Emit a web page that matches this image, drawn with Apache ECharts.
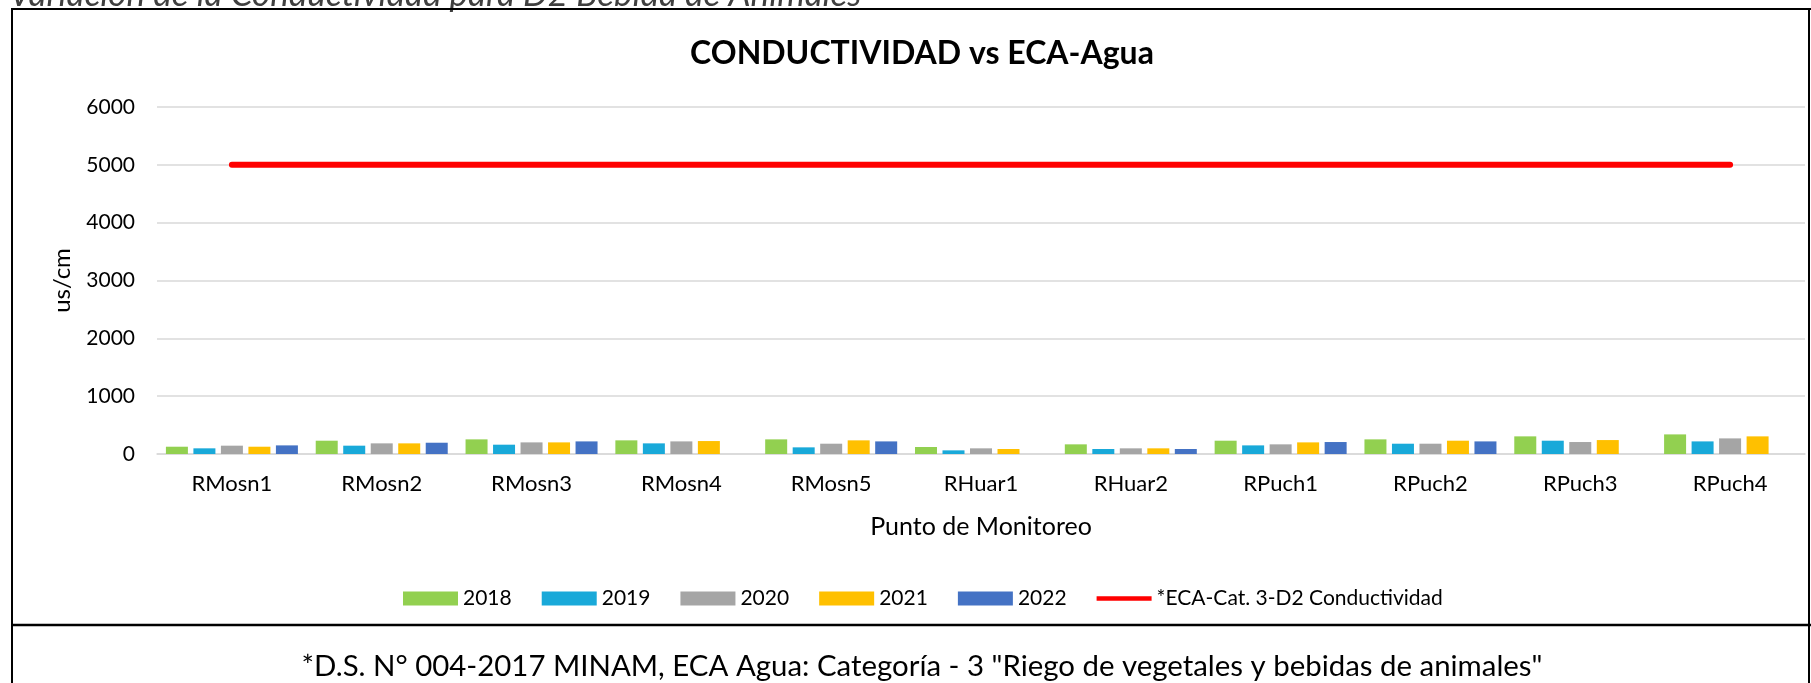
<!DOCTYPE html>
<html>
<head>
<meta charset="utf-8">
<script src="https://cdn.jsdelivr.net/npm/echarts@6/dist/echarts.min.js"></script>
<style>
    html, body { margin: 0; padding: 0; background: #fff; }
    #chart { width: 1811px; height: 683px; }
</style>
</head>
<body>
<div id="chart"></div>
<script>
    // puntos de monitoreo
    var categories = ['RMosn1', 'RMosn2', 'RMosn3', 'RMosn4', 'RMosn5', 'RHuar1', 'RHuar2', 'RPuch1', 'RPuch2', 'RPuch3', 'RPuch4'];
    var years = ['2018', '2019', '2020', '2021', '2022'];
    var v2018 = [126, 230, 253, 236, 253, 121, 167, 230, 253, 305, 339];
    var v2019 = [98, 144, 161, 184, 115, 63, 86, 149, 178, 230, 218];
    var v2020 = [144, 184, 201, 218, 178, 98, 98, 167, 178, 207, 270];
    var v2021 = [126, 184, 201, 224, 236, 86, 98, 201, 230, 241, 305];
    var v2022 = [149, 195, 218, null, 218, null, 86, 207, 218, null, null];
    var ecaName = '*ECA-Cat. 3-D2 Conductividad';
    var ecaLimit = [5000, 5000, 5000, 5000, 5000, 5000, 5000, 5000, 5000, 5000, 5000];
    var yTicks = [0, 1000, 2000, 3000, 4000, 5000, 6000];

    var colors = ['#92D050', '#19A9D9', '#A5A5A5', '#FFC000', '#4472C4'];
    var font = 'Lato';

    var chart = echarts.init(document.getElementById('chart'), null, {renderer: 'canvas'});

    var values = [v2018, v2019, v2020, v2021, v2022];

    function _series() {
        var out = years.map(function (y, i) {
            return {
                name: y,
                type: 'bar',
                data: values[i],
                barWidth: 22,
                barGap: '25%',
                itemStyle: {color: colors[i]}
            };
        });
        out.push({
            name: ecaName,
            type: 'line',
            data: ecaLimit,
            symbol: 'none',
            lineStyle: {color: '#FF0000', width: 6, cap: 'round'},
            itemStyle: {color: '#FF0000'}
        });
        return out;
    }

    // linea gruesa en la leyenda (sin punto)
    var lineIcon = 'path://M0,0H58V0.01H0Z M0,4.5H58V9.5H0Z M0,13.99H58V14H0Z';
    var legendData = years.map(function (y) {
        return {name: y, icon: 'rect'};
    });
    legendData.push({name: ecaName, icon: lineIcon});

    var option = {
        animation: false,
        textStyle: {fontFamily: font, color: '#000'},
        grid: {left: 157, right: 6, top: 107, bottom: 229},
        legend: {
            left: 398,
            top: 583,
            itemWidth: 55,
            itemHeight: 14,
            itemGap: 30,
            textStyle: {fontFamily: font, fontSize: 21, color: '#000'},
            data: legendData
        },
        xAxis: {
            type: 'category',
            data: categories,
            name: 'Punto de Monitoreo',
            nameLocation: 'middle',
            nameGap: 60,
            nameTextStyle: {fontFamily: font, fontSize: 25, color: '#000'},
            axisLine: {lineStyle: {color: '#D9D9D9', width: 1.5}},
            axisTick: {show: false},
            axisLabel: {fontFamily: font, fontSize: 22, color: '#000', margin: 19}
        },
        yAxis: {
            type: 'value',
            min: yTicks[0],
            max: yTicks[yTicks.length - 1],
            interval: 1000,
            name: 'us/cm',
            nameLocation: 'middle',
            nameGap: 83,
            nameTextStyle: {fontFamily: font, fontSize: 24, color: '#000'},
            axisLabel: {
                fontFamily: font, fontSize: 21, color: '#000', margin: 22,
                formatter: function (v) { return String(v); }
            },
            splitLine: {lineStyle: {color: '#D9D9D9', width: 1.5}}
        },
        graphic: [
            {
                type: 'text', x: 9, y: 12,
                style: {
                    text: 'Variación de la Conductividad para D2 Bebida de Animales',
                    font: 'italic 35px ' + font, fill: '#404040',
                    textVerticalAlign: 'bottom'
                }
            },
            {
                type: 'text', x: 922, y: 54,
                style: {
                    text: 'CONDUCTIVIDAD vs ECA-Agua',
                    font: 'bold 32px ' + font, fill: '#000',
                    textAlign: 'center', textVerticalAlign: 'middle'
                }
            },
            {
                type: 'text', x: 922, y: 667,
                style: {
                    text: '*D.S. N° 004-2017 MINAM, ECA Agua: Categoría - 3 "Riego de vegetales y bebidas de animales"',
                    font: '29.4px ' + font, fill: '#000',
                    textAlign: 'center', textVerticalAlign: 'middle'
                }
            },
            // bordes de la celda
            {type: 'line', shape: {x1: 11, y1: 9, x2: 1811, y2: 9}, style: {stroke: '#000', lineWidth: 2}},
            {type: 'line', shape: {x1: 12, y1: 8, x2: 12, y2: 683}, style: {stroke: '#000', lineWidth: 2}},
            {type: 'line', shape: {x1: 1809, y1: 8, x2: 1809, y2: 683}, style: {stroke: '#000', lineWidth: 2}},
            {type: 'line', shape: {x1: 11, y1: 625, x2: 1811, y2: 625}, style: {stroke: '#000', lineWidth: 2.5}}
        ],
        series: _series()
    };

    chart.setOption(option);
</script>
</body>
</html>
